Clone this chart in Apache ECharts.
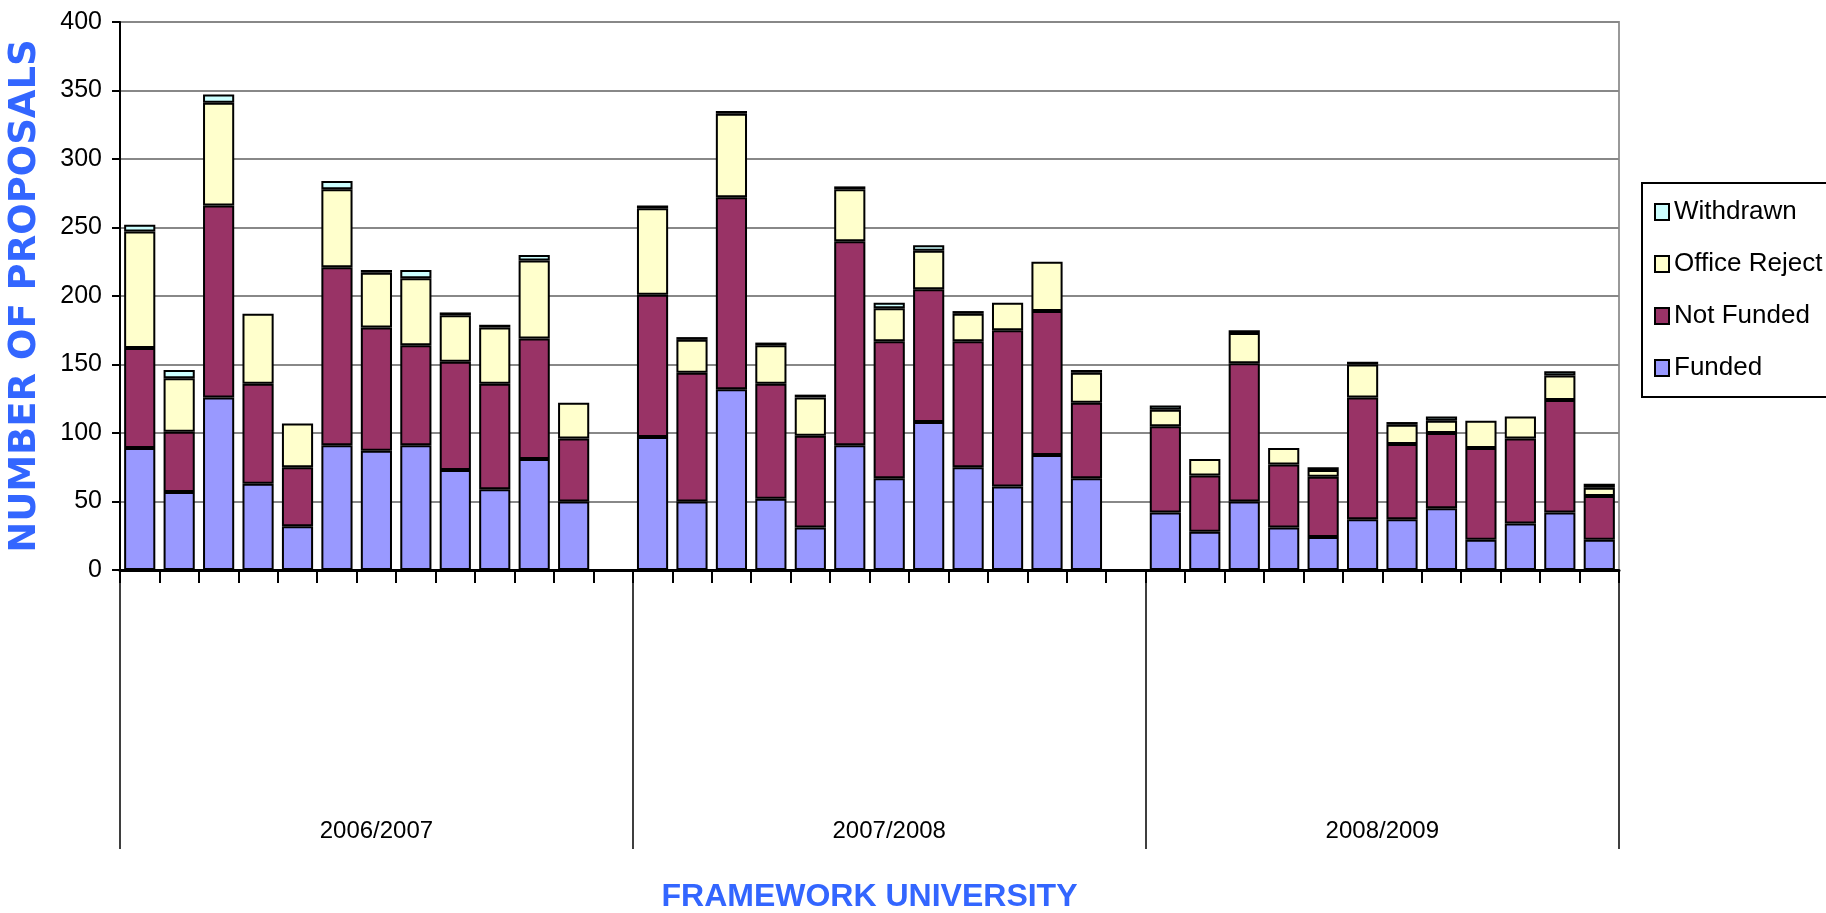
<!DOCTYPE html>
<html>
<head>
<meta charset="utf-8">
<script src="https://cdn.jsdelivr.net/npm/echarts@6/dist/echarts.min.js"></script>
<style>
html,body{margin:0;padding:0;background:#fff;}
#chart{width:1826px;height:913px;}
</style>
</head>
<body>
<div id="chart"></div>
<script>
// ---- Data ----
var groups = ['2006/2007', '2007/2008', '2008/2009'];
var seriesNames = ['Funded', 'Not Funded', 'Office Reject', 'Withdrawn'];
var yTicks = [0, 50, 100, 150, 200, 250, 300, 350, 400];

var funded2006 = [89, 57, 126, 63, 32, 91, 87, 91, 73, 59, 81, 50];
var notFunded2006 = [73, 44, 140, 73, 43, 130, 90, 73, 79, 77, 88, 46];
var officeReject2006 = [85, 39, 75, 51, 32, 57, 40, 49, 34, 41, 57, 26];
var withdrawn2006 = [5, 6, 6, 0, 0, 6, 2, 6, 2, 2, 4, 0];

var funded2007 = [97, 50, 132, 52, 31, 91, 67, 108, 75, 61, 84, 67];
var notFunded2007 = [104, 94, 140, 84, 67, 149, 100, 97, 92, 114, 105, 55];
var officeReject2007 = [63, 24, 61, 28, 28, 38, 24, 28, 20, 20, 36, 22];
var withdrawn2007 = [2, 2, 2, 2, 2, 2, 4, 4, 2, 0, 0, 2];

var funded2008 = [42, 28, 50, 31, 24, 37, 37, 45, 22, 34, 42, 22];
var notFunded2008 = [63, 41, 101, 46, 44, 89, 55, 55, 67, 62, 82, 32];
var officeReject2008 = [12, 12, 22, 12, 5, 24, 14, 9, 20, 16, 18, 6];
var withdrawn2008 = [3, 0, 2, 0, 2, 2, 2, 3, 0, 0, 3, 3];

// ---- Build options ----
var perGroup = [
  [funded2006, notFunded2006, officeReject2006, withdrawn2006],
  [funded2007, notFunded2007, officeReject2007, withdrawn2007],
  [funded2008, notFunded2008, officeReject2008, withdrawn2008]
];
var categories = [];
var seriesData = [[], [], [], []];
var boundaries = [0];
var centers = [];
perGroup.forEach(function (g, gi) {
  var start = categories.length;
  var n = g[0].length;
  for (var i = 0; i < n; i++) {
    categories.push(groups[gi] + ' ' + (i + 1));
    for (var s = 0; s < 4; s++) {
      var v = g[s][i];
      seriesData[s].push(v === 0 ? '-' : v);
    }
  }
  if (gi < perGroup.length - 1) {
    categories.push(groups[gi] + ' gap');
    for (var s2 = 0; s2 < 4; s2++) seriesData[s2].push('-');
  }
  var end = categories.length;
  boundaries.push(end);
  centers.push((start + end) / 2);
});
var nCat = categories.length;

var colors = ['#9999FF', '#993366', '#FFFFCC', '#CCFFFF'];
var narrow = "'Liberation Sans Narrow', 'Arial Narrow', 'Liberation Sans', Arial, sans-serif";

var series = seriesNames.map(function (name, i) {
  return {
    name: name,
    type: 'bar',
    stack: 'total',
    xAxisIndex: 0,
    barCategoryGap: '21%',
    data: seriesData[i],
    itemStyle: { color: colors[i], borderColor: '#000', borderWidth: 2 }
  };
});

var chart = echarts.init(document.getElementById('chart'), null, { renderer: 'canvas' });
chart.setOption({
  animation: false,
  backgroundColor: '#fff',
  grid: {
    left: 120, right: 207, top: 22, bottom: 343,
    show: true, borderColor: '#999', borderWidth: 2,
    containLabel: false, outerBoundsMode: 'none'
  },
  legend: {
    orient: 'vertical',
    left: 1642,
    top: 183,
    data: ['Withdrawn', 'Office Reject', 'Not Funded', 'Funded'],
    backgroundColor: '#fff',
    borderColor: '#000',
    borderWidth: 2,
    borderRadius: 0,
    padding: [16, 12, 16, 12],
    itemWidth: 14,
    itemHeight: 16,
    itemGap: 26,
    icon: 'rect',
    textStyle: { fontFamily: narrow, fontSize: 26, color: '#000' }
  },
  xAxis: [
    {
      type: 'category',
      data: categories,
      position: 'bottom',
      boundaryGap: true,
      axisLine: { show: true, lineStyle: { color: '#000', width: 3 } },
      axisTick: { show: true, interval: 0, length: 13, lineStyle: { color: '#000', width: 2 } },
      axisLabel: { show: false },
      splitLine: { show: false },
      name: 'FRAMEWORK UNIVERSITY',
      nameLocation: 'middle',
      nameGap: 311,
      nameMoveOverlap: false,
      nameTextStyle: { fontFamily: narrow, fontWeight: 'bold', fontSize: 32, color: '#3366FF' },
      z: 5
    },
    {
      type: 'value',
      min: 0,
      max: nCat,
      position: 'bottom',
      axisLine: { show: false },
      splitLine: { show: false },
      axisTick: { show: true, customValues: boundaries, length: 279, lineStyle: { color: '#000', width: 1.5 } },
      axisLabel: {
        show: true,
        customValues: centers,
        margin: 249,
        fontFamily: narrow,
        fontSize: 24,
        color: '#000',
        formatter: function (v) {
          for (var i = 0; i < centers.length; i++) {
            if (Math.abs(centers[i] - v) < 1e-6) return groups[i];
          }
          return '';
        }
      }
    }
  ],
  yAxis: {
    type: 'value',
    min: yTicks[0],
    max: yTicks[yTicks.length - 1],
    interval: yTicks[1] - yTicks[0],
    axisLine: { show: true, lineStyle: { color: '#000', width: 2 } },
    axisTick: { show: true, length: 8, lineStyle: { color: '#000', width: 2 } },
    axisLabel: { fontFamily: narrow, fontSize: 25, color: '#000', margin: 18 },
    splitLine: { show: true, lineStyle: { color: '#888', width: 2 } },
    name: 'NUMBER OF PROPOSALS',
    nameLocation: 'middle',
    nameRotate: 90,
    nameGap: 76,
    nameMoveOverlap: false,
    nameTextStyle: { fontFamily: "'DejaVu Sans', sans-serif", fontWeight: 'bold', fontSize: 37, color: '#3366FF' }
  },
  series: series
});
</script>
</body>
</html>
